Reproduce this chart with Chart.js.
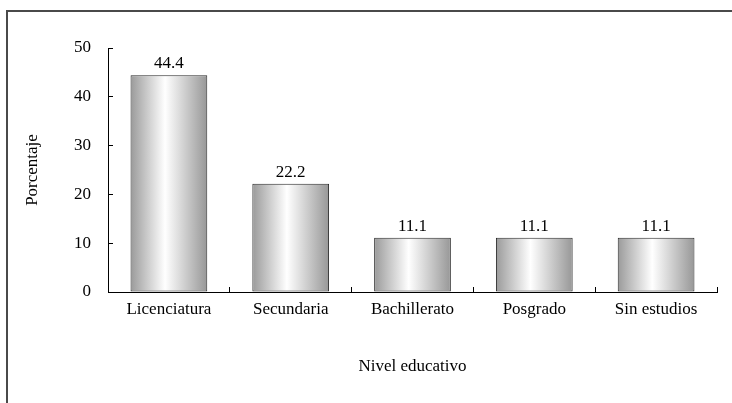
<!DOCTYPE html>
<html>
<head>
<meta charset="utf-8">
<script src="https://cdn.jsdelivr.net/npm/chart.js@4/dist/chart.umd.min.js"></script>
<style>
  html, body { margin: 0; padding: 0; background: #fff; }
  #wrap { width: 732px; height: 403px; position: relative; }
</style>
</head>
<body>
<div id="wrap"><canvas id="nivelChart"></canvas></div>
<script>
const categories = ['Licenciatura', 'Secundaria', 'Bachillerato', 'Posgrado', 'Sin estudios'];
const percentages = [44.4, 22.2, 11.1, 11.1, 11.1];
const yTicks = [0, 10, 20, 30, 40, 50];

const FONT = 'Liberation Serif, Times New Roman, serif';
const FSIZE = 17;
const BAR_PCT = 0.63;

// left/top frame like the original figure box
const framePlugin = {
    id: 'frame',
    beforeDraw(chart) {
        const ctx = chart.ctx;
        ctx.save();
        ctx.strokeStyle = '#4a4a4a';
        ctx.lineWidth = 2;
        ctx.beginPath();
        ctx.moveTo(7, chart.height + 5);
        ctx.lineTo(7, 11);
        ctx.lineTo(chart.width + 5, 11);
        ctx.stroke();
        ctx.restore();
    }
};

// value above each bar
const valueLabels = {
    id: 'valueLabels',
    afterDatasetsDraw(chart) {
        const ctx = chart.ctx;
        const meta = chart.getDatasetMeta(0);
        ctx.save();
        ctx.font = FSIZE + 'px ' + FONT;
        ctx.fillStyle = '#000';
        ctx.textAlign = 'center';
        ctx.textBaseline = 'alphabetic';
        meta.data.forEach(function (bar, i) {
            ctx.fillText(percentages[i].toFixed(1), bar.x, bar.y - 7);
        });
        ctx.restore();
    }
};

function barGradient(context) {
    const chart = context.chart;
    const xs = chart.scales.x;
    if (!chart.chartArea || !xs) return '#bbb';
    const cx = xs.getPixelForValue(context.dataIndex);
    const w = xs.width / categories.length * BAR_PCT;
    const g = chart.ctx.createLinearGradient(cx - w / 2, 0, cx + w / 2, 0);
    g.addColorStop(0, '#9a9a9a');
    g.addColorStop(0.45, '#ffffff');
    g.addColorStop(1, '#979797');
    return g;
}

new Chart(document.getElementById('nivelChart'), {
    type: 'bar',
    data: {
        labels: categories,
        datasets: [{
            data: percentages,
            backgroundColor: barGradient,
            borderColor: '#2a2a2a',
            borderWidth: 1,
            borderSkipped: false,
            barPercentage: BAR_PCT,
            categoryPercentage: 1
        }]
    },
    options: {
        responsive: true,
        maintainAspectRatio: false,
        animation: false,
        layout: { padding: { top: 48, right: 15, left: 0, bottom: 0 } },
        plugins: {
            legend: { display: false },
            tooltip: { enabled: false }
        },
        scales: {
            x: {
                offset: true,
                grid: { drawOnChartArea: false, offset: true, tickLength: -5, color: '#000' },
                border: { color: '#000', width: 1 },
                ticks: { color: '#000', font: { family: FONT, size: FSIZE }, padding: 12, maxRotation: 0 },
                title: {
                    display: true,
                    text: 'Nivel educativo',
                    color: '#000',
                    font: { family: FONT, size: FSIZE },
                    padding: { top: 0, bottom: 26 }
                },
                afterFit(scale) { scale.height = 111; }
            },
            y: {
                min: 0,
                max: 50,
                afterBuildTicks(scale) { scale.ticks = yTicks.map(v => ({ value: v })); },
                grid: { drawOnChartArea: false, tickLength: -5, color: '#000' },
                border: { color: '#000', width: 1 },
                ticks: { color: '#000', font: { family: FONT, size: FSIZE }, padding: 22 },
                title: {
                    display: true,
                    text: 'Porcentaje',
                    color: '#000',
                    font: { family: FONT, size: FSIZE },
                    padding: { top: 22, bottom: 0 }
                },
                afterFit(scale) { scale.width = 108; }
            }
        }
    },
    plugins: [framePlugin, valueLabels]
});
</script>
</body>
</html>
